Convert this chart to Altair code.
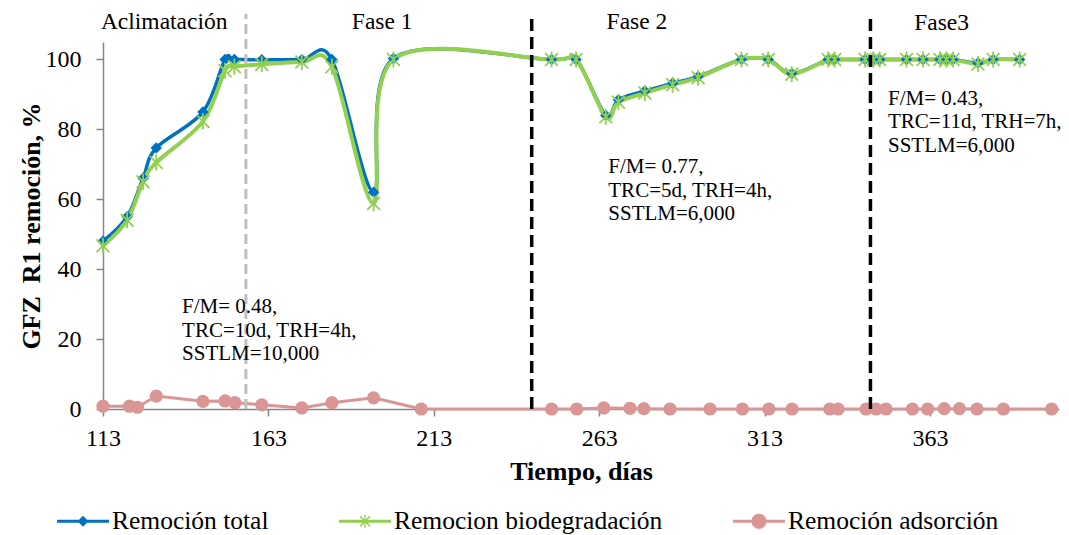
import altair as alt
import pandas as pd

FONT = "Liberation Serif"

# ---- data ----
dias = [113, 120.3, 125.1, 129.1, 143.2, 149.9, 152.7, 161.0, 173.1, 182.2,
        194.8, 200.8, 248.6, 256.0, 265.0, 268.8, 276.8, 285.2, 292.9, 306.0,
        314.1, 321.2, 332.2, 334.2, 343.4, 345.8, 347.8, 355.9, 360.9, 366.0,
        368.0, 370.0, 377.5, 382.1, 390.1]
total = [48.0, 55.0, 66.0, 74.7, 85.0, 100.0, 100.0, 99.9, 100.0, 100.0,
         62.0, 100.3, 100.0, 100.0, 84.0, 88.5, 91.0, 93.2, 95.1, 100.0,
         100.0, 96.0, 100.0, 100.0, 100.0, 100.0, 100.0, 100.0, 100.0, 100.0,
         100.0, 100.0, 99.0, 100.0, 100.0]
bio = [46.7, 54.0, 65.0, 70.5, 82.3, 96.8, 97.9, 98.6, 99.3, 97.9,
       58.8, 100.0, 100.0, 100.0, 83.6, 87.8, 90.4, 92.8, 94.8, 100.0,
       100.0, 95.8, 100.0, 100.0, 100.0, 100.0, 100.0, 100.0, 100.0, 100.0,
       100.0, 100.0, 98.7, 100.0, 100.0]
dias_ads = [113, 121.0, 123.4, 129.1, 143.2, 149.9, 152.9, 161.0, 173.1, 182.2,
            194.8, 209.2, 248.6, 256.2, 264.4, 272.3, 276.5, 284.4, 296.5, 306.3,
            314.3, 321.3, 332.7, 335.2, 343.7, 346.7, 349.7, 357.7, 362.3, 367.3,
            371.9, 377.2, 385.2, 399.8]
ads = [0.8, 0.8, 0.5, 3.7, 2.2, 2.3, 1.8, 1.2, 0.3, 1.8,
       3.2, 0.0, 0.0, 0.0, 0.3, 0.2, 0.1, 0.0, 0.0, 0.0,
       0.0, 0.0, 0.0, 0.0, 0.0, 0.0, 0.0, 0.0, 0.0, 0.1,
       0.1, 0.0, 0.0, 0.0]

series = ["Remoción total", "Remocion biodegradación", "Remoción adsorción"]
colors = ["#0070C0", "#92D050", "#DA9694"]

fase_x = [156.2, 242.6, 345.0]
fase_nombres = ["Aclimatación", "Fase 1", "Fase 2", "Fase3"]
fase_label_x = [131.5, 197.4, 274.4, 366.5]
fase_label_y = [108.6, 108.6, 108.6, 108.4]

notas = ["F/M= 0.48,\nTRC=10d, TRH=4h,\nSSTLM=10,000",
         "F/M= 0.77,\nTRC=5d, TRH=4h,\nSSTLM=6,000",
         "F/M= 0.43,\nTRC=11d, TRH=7h,\nSSTLM=6,000"]
nota_x = [136.9, 265.75, 350.3]
nota_y = [27.4, 67.4, 87.0]

x_ticks = [113, 163, 213, 263, 313, 363]
y_ticks = [0, 20, 40, 60, 80, 100]

# ---- tables ----
df_total = pd.DataFrame({"dia": dias, "valor": total, "serie": series[0]})
df_bio = pd.DataFrame({"dia": dias, "valor": bio, "serie": series[1]})
df_ads = pd.DataFrame({"dia": dias_ads, "valor": ads, "serie": series[2]})
df_all = pd.concat([df_total, df_bio, df_ads], ignore_index=True)
df_fase_gris = pd.DataFrame({"dia": fase_x[:1]})
df_fase_negra = pd.DataFrame({"dia": fase_x[1:]})
df_fase_txt = pd.DataFrame({"dia": fase_label_x, "valor": fase_label_y, "txt": fase_nombres})
df_notas = pd.DataFrame({"dia": nota_x, "valor": nota_y, "txt": notas})

XT = "Tiempo, días"
YT = "GFZ\u00a0 R1 remoción, %"
xscale = alt.Scale(domain=[113, 402], nice=False, zero=False)
yscale = alt.Scale(domain=[0, 105], nice=False)
xaxis = alt.Axis(values=x_ticks, format="d", tickSize=7, labelPadding=10,
                 titleY=70, titleBaseline="alphabetic", labelFlush=False,
                 labelOverlap=False)
yaxis = alt.Axis(values=y_ticks, tickSize=7, labelPadding=15, titleX=-64,
                 titleBaseline="alphabetic", labelFlush=False)

X = alt.X("dia:Q", scale=xscale, axis=xaxis, title=XT)
Y = alt.Y("valor:Q", scale=yscale, axis=yaxis, title=YT)

# legend glyphs (line + marker), all filled sub-paths with the same winding
P_LINE = "M-1,-0.055L1,-0.055L1,0.055L-1,0.055Z"
P_TOTAL = P_LINE + "M-0.21,0L0,-0.21L0.21,0L0,0.21Z"
P_BIO = (P_LINE
         + "M-0.169,-0.211L0.211,0.169L0.169,0.211L-0.211,-0.169Z"
         + "M-0.211,0.169L0.169,-0.211L0.211,-0.169L-0.169,0.211Z"
         + "M-0.025,-0.25L0.025,-0.25L0.025,0.25L-0.025,0.25Z")
P_ADS = P_LINE + "M-0.29,0A0.29,0.29,0,1,1,0.29,0A0.29,0.29,0,1,1,-0.29,0Z"

leg = alt.Legend(
    title=None, orient="none", legendX=-46, legendY=453, direction="horizontal",
    columns=3, columnPadding=70, symbolSize=2704, symbolStrokeWidth=0,
    symbolOpacity=1,
    labelFont=FONT, labelFontSize=25.5, labelColor="black", labelOffset=3, labelLimit=0)

ASTER = "M-0.8,-0.8L0.8,0.8M-0.8,0.8L0.8,-0.8M0,-1L0,1"

base_total = alt.Chart(df_total)
base_bio = alt.Chart(df_bio)
base_ads = alt.Chart(df_ads)

l_total = base_total.mark_line(interpolate="cardinal", strokeWidth=3.5, color=colors[0]).encode(x=X, y=Y)
l_bio = base_bio.mark_line(interpolate="cardinal", strokeWidth=4, color=colors[1]).encode(x=X, y=Y)
p_total = base_total.mark_point(shape="diamond", filled=True, size=130, opacity=1,
                                color=colors[0]).encode(x=X, y=Y)
p_bio = base_bio.mark_point(shape=ASTER, filled=False, size=256, strokeWidth=1.8, opacity=1,
                            color=colors[1]).encode(x=X, y=Y)
l_ads = base_ads.mark_line(strokeWidth=3, color=colors[2]).encode(x=X, y=Y)
p_ads = base_ads.mark_point(shape="circle", filled=True, size=175, opacity=1,
                            color=colors[2]).encode(x=X, y=Y)

Y0 = alt.Y(datum=0, type="quantitative", scale=yscale, axis=yaxis, title=YT)
r_gris = alt.Chart(df_fase_gris).mark_rule(strokeDash=[10, 5], strokeWidth=3, color="#BFBFBF").encode(
    x=X, y=Y0, y2=alt.Y2(datum=113))
r_negra = alt.Chart(df_fase_negra).mark_rule(strokeDash=[12, 6], strokeWidth=3.5, color="black").encode(
    x=X, y=Y0, y2=alt.Y2(datum=113))

t_fase = alt.Chart(df_fase_txt).mark_text(align="center", baseline="alphabetic", font=FONT,
                                          fontSize=23.5, color="black").encode(x=X, y=Y, text="txt:N")
t_notas = alt.Chart(df_notas).mark_text(align="left", baseline="alphabetic", font=FONT, fontSize=21,
                                        lineBreak="\n", lineHeight=23.5, color="black").encode(
    x=X, y=Y, text="txt:N")

legend_layer = alt.Chart(df_all).mark_point(filled=True, opacity=1).encode(
    x=X, y=Y,
    color=alt.Color("serie:N", scale=alt.Scale(domain=series, range=colors), legend=leg),
    shape=alt.Shape("serie:N", scale=alt.Scale(domain=series, range=[P_TOTAL, P_BIO, P_ADS]),
                    legend=leg),
).transform_filter("false")

chart = alt.layer(
    l_total, l_bio, p_total, p_bio, l_ads, p_ads, r_gris, r_negra, t_fase, t_notas, legend_layer
).properties(
    width=956, height=367,
    padding={"left": 95, "top": 34, "right": 2, "bottom": 126},
    autosize=alt.AutoSizeParams(type="none"),
    background="white",
).configure_view(stroke=None).configure_axis(
    grid=False, domainColor="#868686", tickColor="#868686", domainWidth=1.5, tickWidth=1.5,
    labelFont=FONT, labelFontSize=24, labelColor="black",
    titleFont=FONT, titleFontSize=26, titleFontWeight="bold", titleColor="black",
)

chart.save("out.html", embed_options={"renderer": "svg", "actions": False})
